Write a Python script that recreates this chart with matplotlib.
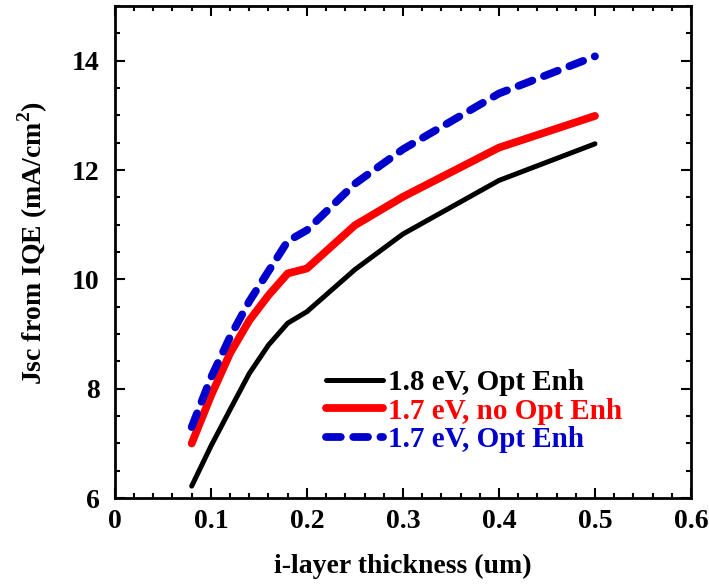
import matplotlib.pyplot as plt
from matplotlib.ticker import MultipleLocator

# i-layer thickness (um)
thickness = [0.08, 0.10, 0.12, 0.14, 0.16, 0.18, 0.20, 0.25, 0.30, 0.40, 0.50]

# Jsc from IQE (mA/cm2)
jsc_18_opt = [6.22, 6.95, 7.62, 8.28, 8.80, 9.20, 9.41, 10.18, 10.83, 11.81, 12.48]
jsc_17_noopt = [7.00, 7.87, 8.65, 9.25, 9.71, 10.11, 10.20, 10.99, 11.51, 12.41, 12.99]
jsc_17_opt = [7.30, 8.20, 8.95, 9.60, 10.15, 10.70, 10.90, 11.75, 12.38, 13.40, 14.08]

labels = ['1.8 eV, Opt Enh', '1.7 eV, no Opt Enh', '1.7 eV, Opt Enh']
colors = ['black', '#ff0000', '#0000cc']

plt.rcParams['font.family'] = ['Liberation Serif', 'DejaVu Serif']
plt.rcParams['font.weight'] = 'bold'
plt.rcParams['mathtext.fontset'] = 'custom'
plt.rcParams['mathtext.rm'] = 'Liberation Serif'
plt.rcParams['mathtext.bf'] = 'Liberation Serif:bold'

fig = plt.figure(figsize=(7.09, 5.84), dpi=100)
ax = fig.add_axes([0.162, 0.147, 0.8126, 0.8427])

ax.plot(thickness, jsc_18_opt, color=colors[0], lw=3.6,
        solid_capstyle='round', solid_joinstyle='round', label=labels[0])
ax.plot(thickness, jsc_17_noopt, color=colors[1], lw=5.6,
        solid_capstyle='round', solid_joinstyle='round', label=labels[1])
ax.plot(thickness, jsc_17_opt, color=colors[2], lw=5.6, dashes=(1.9, 1.6),
        dash_capstyle='round', dash_joinstyle='round', label=labels[2])

ax.set_xlim(0, 0.6)
ax.set_ylim(6, 15)
ax.xaxis.set_major_locator(MultipleLocator(0.1))
ax.xaxis.set_minor_locator(MultipleLocator(0.02))
ax.yaxis.set_major_locator(MultipleLocator(2))
ax.yaxis.set_minor_locator(MultipleLocator(0.5))
ax.set_xticks([0, 0.1, 0.2, 0.3, 0.4, 0.5, 0.6])
ax.set_xticklabels(['0', '0.1', '0.2', '0.3', '0.4', '0.5', '0.6'])

ax.tick_params(which='both', direction='in', top=True, right=True, width=1.5)
ax.tick_params(which='major', length=7, labelsize=20)
ax.tick_params(axis='x', which='major', pad=8)
ax.tick_params(axis='y', which='major', pad=11)
ax.tick_params(which='minor', length=3.5)
for s in ax.spines.values():
    s.set_linewidth(2)

ax.set_xlabel('i-layer thickness (um)', fontsize=20, fontweight='bold', labelpad=14)
ax.set_ylabel('Jsc from IQE (mA/cm$^\\mathbf{2}$)', fontsize=20, fontweight='bold',
              labelpad=16, y=0.518)

leg = ax.legend(loc='center left', bbox_to_anchor=(0.366, 0.177), frameon=False,
                fontsize=21, handlelength=1.95, handletextpad=0.2, labelspacing=0.05,
                borderpad=0, borderaxespad=0)
for txt, c in zip(leg.get_texts(), colors):
    txt.set_color(c)

fig.savefig('out.png', dpi=100)
